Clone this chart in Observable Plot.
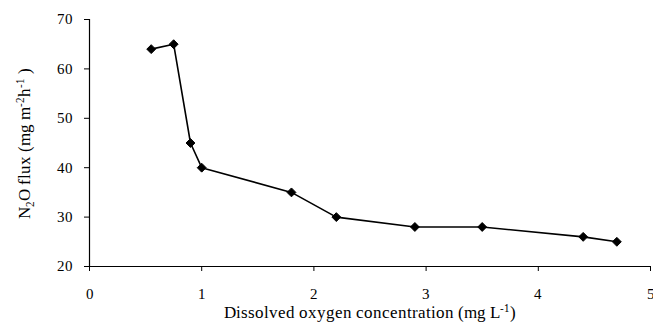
<!DOCTYPE html>
<html>
<head>
<meta charset="utf-8">
<script src="https://cdn.jsdelivr.net/npm/d3@7"></script>
<script src="https://cdn.jsdelivr.net/npm/@observablehq/plot@0.6"></script>
<style>
  @font-face { font-family: "ChartSerif"; src: local("Liberation Serif"), local("LiberationSerif"), local("LiberationSerif-Regular"); }
  html, body { margin: 0; padding: 0; background: #fff; }
  svg text, svg tspan { font-family: "ChartSerif", "Liberation Serif", "Times New Roman", serif; }
</style>
</head>
<body>
<div id="chart"></div>
<script>
const oxygen = [0.55, 0.75, 0.9, 1.0, 1.8, 2.2, 2.9, 3.5, 4.4, 4.7];
const flux   = [64, 65, 45, 40, 35, 30, 28, 28, 26, 25];
const xTicks = [0, 1, 2, 3, 4, 5];
const yTicks = [20, 30, 40, 50, 60, 70];

const data = oxygen.map((x, i) => ({x, y: flux[i]}));

const plot = Plot.plot({
  width: 653,
  height: 324,
  marginLeft: 89,
  marginRight: 3,
  marginTop: 19,
  marginBottom: 58,
  style: {fontFamily: "ChartSerif, Liberation Serif, serif", fontSize: "15px"},
  x: {domain: [0, 5]},
  y: {domain: [20, 70]},
  marks: [
    Plot.axisX({ticks: xTicks, tickFormat: d => String(d), tickSize: 5, tickPadding: 17, label: null, fontSize: 15}),
    Plot.axisY({ticks: yTicks, tickFormat: d => String(d), tickSize: 5, tickPadding: 12, label: null, fontSize: 15}),
    Plot.ruleY([20], {stroke: "#000", strokeWidth: 1.2}),
    Plot.ruleX([0], {stroke: "#000", strokeWidth: 1.2}),
    Plot.line(data, {x: "x", y: "y", stroke: "#000", strokeWidth: 1.6}),
    Plot.dot(data, {x: "x", y: "y", symbol: "diamond2", r: 4, fill: "#000", stroke: "#000", strokeWidth: 1})
  ]
});

document.getElementById("chart").appendChild(plot);

const svg = d3.select(plot);

// x-axis label
const xl = svg.append("text")
  .attr("x", 369.5).attr("y", 318)
  .attr("text-anchor", "middle")
  .attr("font-size", 17).attr("fill", "#000");
xl.append("tspan").text("Dissolved oxygen concentration (mg L");
xl.append("tspan").attr("dy", -6).attr("font-size", 11).text("-1");
xl.append("tspan").attr("dy", 6).text(")");

// y-axis label
const yl = svg.append("text")
  .attr("transform", "translate(30,143) rotate(-90)")
  .attr("text-anchor", "middle")
  .attr("font-size", 17).attr("fill", "#000");
yl.append("tspan").text("N");
yl.append("tspan").attr("dy", 4).attr("font-size", 11).text("2");
yl.append("tspan").attr("dy", -4).text("O flux (mg m");
yl.append("tspan").attr("dy", -6).attr("font-size", 11).text("-2");
yl.append("tspan").attr("dy", 6).text("h");
yl.append("tspan").attr("dy", -6).attr("font-size", 11).text("-1");
yl.append("tspan").attr("dy", 6).text(" )");
</script>
</body>
</html>
